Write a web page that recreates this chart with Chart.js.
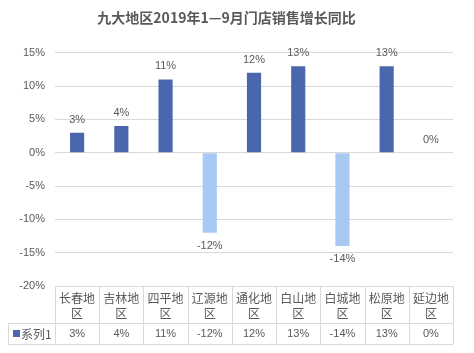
<!DOCTYPE html>
<html>
<head>
<meta charset="utf-8">
<script src="https://cdn.jsdelivr.net/npm/chart.js@4.4.0/dist/chart.umd.min.js"></script>
<style>
  html, body { margin: 0; padding: 0; background: #fff; }
  #wrap { width: 474px; height: 353px; }
</style>
</head>
<body>
<div id="wrap"><canvas id="salesChart"></canvas></div>
<script>
// 数据
const chartTitle = '九大地区2019年1—9月门店销售增长同比';
const regions = ['长春地区', '吉林地区', '四平地区', '辽源地区', '通化地区', '白山地区', '白城地区', '松原地区', '延边地区'];
const growth = [3, 4, 11, -12, 12, 13, -14, 13, 0];
const seriesName = '系列1';
const yTicks = [15, 10, 5, 0, -5, -10, -15, -20];

const textColor = '#595959';
const gridColor = '#D9D9D9';
const posColor = '#4A66AC';
const negColor = '#A9C9F5';
const numFont = '11px "Liberation Sans", Arial, sans-serif';
const cjkFont = '12px "Noto Sans CJK SC", sans-serif';

// 数据标签 + 数据表
const tablePlugin = {
    id: 'tablePlugin',
    afterDatasetsDraw(chart) {
        const ctx = chart.ctx;
        const xs = chart.scales.x;
        const ys = chart.scales.y;
        const area = chart.chartArea;
        const step = (area.right - area.left) / regions.length;

        ctx.save();
        ctx.fillStyle = textColor;
        ctx.textAlign = 'center';
        ctx.textBaseline = 'middle';
        ctx.font = numFont;

        // 柱上标签
        growth.forEach(function (v, i) {
            const x = xs.getPixelForValue(i);
            const y = ys.getPixelForValue(v);
            ctx.fillText(v + '%', x, v < 0 ? y + 13 : y - 13);
        });

        // 表格
        const top = area.bottom;
        const mid = top + 37;
        const bottom = top + 58;
        const keyLeft = 8;
        ctx.strokeStyle = gridColor;
        ctx.lineWidth = 1;
        ctx.beginPath();
        ctx.moveTo(keyLeft, mid + 0.5); ctx.lineTo(area.right, mid + 0.5);
        ctx.moveTo(keyLeft, bottom + 0.5); ctx.lineTo(area.right, bottom + 0.5);
        ctx.moveTo(keyLeft + 0.5, mid); ctx.lineTo(keyLeft + 0.5, bottom);
        for (let i = 0; i <= regions.length; i++) {
            const x = Math.round(area.left + i * step) + 0.5;
            ctx.moveTo(x, top); ctx.lineTo(x, bottom);
        }
        ctx.stroke();

        regions.forEach(function (name, i) {
            const x = xs.getPixelForValue(i);
            ctx.font = cjkFont;
            ctx.fillText(name.slice(0, 3), x, top + 12);
            ctx.fillText(name.slice(3), x, top + 27);
            ctx.font = numFont;
            ctx.fillText(growth[i] + '%', x, mid + 11);
        });

        // 图例
        ctx.fillStyle = posColor;
        ctx.fillRect(13, mid + 7, 7, 7);
        ctx.fillStyle = textColor;
        ctx.textAlign = 'left';
        ctx.font = cjkFont;
        ctx.fillText(seriesName, 21, mid + 11);
        ctx.restore();
    }
};

const ctxSales = document.getElementById('salesChart');
new Chart(ctxSales.getContext('2d'), {
    type: 'bar',
    data: {
        labels: regions,
        datasets: [{
            label: seriesName,
            data: growth,
            backgroundColor: growth.map(v => v < 0 ? negColor : posColor),
            barPercentage: 0.32,
            categoryPercentage: 1
        }]
    },
    options: {
        responsive: true,
        maintainAspectRatio: false,
        animation: false,
        layout: {
            padding: { top: 0, right: 21, bottom: 67, left: 0 }
        },
        plugins: {
            legend: { display: false },
            tooltip: { enabled: false },
            title: {
                display: true,
                text: chartTitle,
                color: textColor,
                font: { family: '"Noto Sans CJK SC", sans-serif', size: 14, weight: 'bold' },
                padding: { top: 9, bottom: 27 }
            }
        },
        scales: {
            x: { display: false },
            y: {
                min: -20,
                max: 15,
                afterBuildTicks: function (scale) {
                    scale.ticks = yTicks.map(v => ({ value: v }));
                },
                afterFit: function (scale) {
                    scale.width = 55;
                },
                ticks: {
                    color: textColor,
                    font: { family: '"Liberation Sans", Arial, sans-serif', size: 11 },
                    padding: 10,
                    callback: v => v + '%'
                },
                grid: { color: gridColor, drawTicks: false },
                border: { display: false }
            }
        }
    },
    plugins: [tablePlugin]
});
</script>
</body>
</html>
